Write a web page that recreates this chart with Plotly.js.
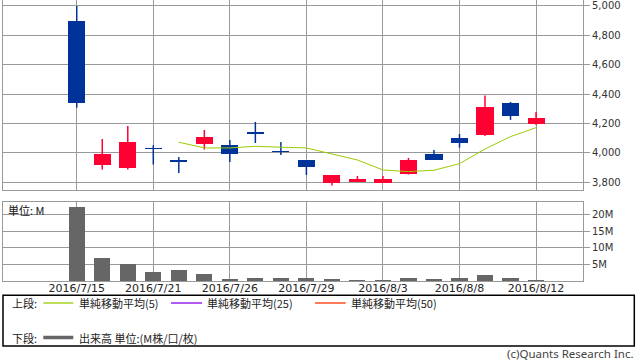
<!DOCTYPE html>
<html>
<head>
<meta charset="utf-8">
<script src="https://cdn.plot.ly/plotly-3.0.1.min.js"></script>
<style>html,body{margin:0;padding:0;background:#fff;}#chart{width:638px;height:362px;}</style>
</head>
<body>
<div id="chart"></div>
<script>
// ---- data ----
const dates = ["2016/7/15","2016/7/19","2016/7/20","2016/7/21","2016/7/22","2016/7/25","2016/7/26","2016/7/27","2016/7/28","2016/7/29","2016/8/1","2016/8/2","2016/8/3","2016/8/4","2016/8/5","2016/8/8","2016/8/9","2016/8/10","2016/8/12"];
const openP  = [4898, 3921, 3900, 4035, 3952, 4061, 4054, 4143, 4014, 3952, 3798, 3805, 3798, 3859, 3993, 4102, 4122, 4340, 4200];
const highP  = [5000, 4095, 4184, 4052, 3973, 4156, 4088, 4211, 4075, 3952, 3850, 3843, 3843, 3966, 4020, 4129, 4390, 4347, 4279];
const lowP   = [4308, 3887, 3887, 3921, 3864, 4023, 3939, 4068, 3986, 3850, 3778, 3805, 3798, 3853, 3955, 4036, 4116, 4225, 4190];
const closeP = [4340, 3993, 4075, 4025, 3941, 4109, 3995, 4132, 4007, 3907, 3850, 3823, 3823, 3952, 3955, 4070, 4313, 4252, 4238];
const ma5    = [null, null, null, null, 4073, 4034, 4034, 4045, 4039, 4034, 3993, 3952, 3884, 3873, 3882, 3927, 4027, 4111, 4172];
const volumeM = [22.3, 7.0, 5.1, 2.8, 3.3, 2.2, 0.6, 1.0, 1.0, 1.0, 0.6, 0.4, 0.4, 1.0, 0.7, 1.0, 1.9, 1.0, 0.4];
const tickIdx = [0, 3, 6, 9, 12, 15, 18];
const priceTicks = [3800, 4000, 4200, 4400, 4600, 4800, 5000];
const volTicks = [5, 10, 15, 20];
const volTickText = ["5M", "10M", "15M", "20M"];
const legendLabels = ["単純移動平均(5)", "単純移動平均(25)", "単純移動平均(50)"];

// ---- styles ----
const RED = "#ff0033", BLUE = "#003399", GRID = "#999999";
const idx = dates.map((d, i) => i);

function candleParts(upFlag) {
  const bx = [], bb = [], bh = [], wx = [], wy = [];
  idx.forEach(i => {
    const up = closeP[i] >= openP[i];
    if (up !== upFlag) return;
    bx.push(i);
    bb.push(Math.min(openP[i], closeP[i]));
    bh.push(Math.max(Math.abs(closeP[i] - openP[i]), 6));
    wx.push(i, i, null);
    wy.push(lowP[i], highP[i], null);
  });
  return {bx, bb, bh, wx, wy};
}
const upP = candleParts(true), dnP = candleParts(false);

const traces = [
  {type:"scatter", mode:"lines", x:upP.wx, y:upP.wy, xaxis:"x", yaxis:"y", line:{color:RED, width:1.5}, hoverinfo:"skip", showlegend:false},
  {type:"scatter", mode:"lines", x:dnP.wx, y:dnP.wy, xaxis:"x", yaxis:"y", line:{color:BLUE, width:1.5}, hoverinfo:"skip", showlegend:false},
  {type:"bar", x:upP.bx, y:upP.bh, base:upP.bb, width:0.67, xaxis:"x", yaxis:"y", marker:{color:RED, line:{width:0}}, showlegend:false},
  {type:"bar", x:dnP.bx, y:dnP.bh, base:dnP.bb, width:0.67, xaxis:"x", yaxis:"y", marker:{color:BLUE, line:{width:0}}, showlegend:false},
  {type:"scatter", mode:"lines", x:idx, y:ma5, xaxis:"x", yaxis:"y", line:{color:"#99cc00", width:1}, connectgaps:false, showlegend:false},
  {type:"bar", x:idx, y:volumeM, width:0.63, xaxis:"x2", yaxis:"y2", marker:{color:"#666666", line:{width:0}}, showlegend:false}
];

const xr = [-2.89, 19.84];
const tickFont = {family:"DejaVu Sans", size:10, color:"#333333"};
const cjk = "Noto Sans CJK JP, DejaVu Sans";

// paper coordinate helpers (plot area: x 3..583, y 0..281)
const PX = px => (px - 3) / 580;
const PY = py => (281 - py) / 281;

const shapes = [
  {type:"rect", xref:"paper", yref:"paper", x0:PX(3), x1:PX(634.3), y0:PY(346), y1:PY(295.3), line:{color:"#000", width:1.5}, fillcolor:"rgba(0,0,0,0)"},
  {type:"line", xref:"paper", yref:"paper", x0:PX(43.3), x1:PX(73.3), y0:PY(303), y1:PY(303), line:{color:"#99cc00", width:1.3}},
  {type:"line", xref:"paper", yref:"paper", x0:PX(171), x1:PX(202), y0:PY(303), y1:PY(303), line:{color:"#8800ee", width:1.3}},
  {type:"line", xref:"paper", yref:"paper", x0:PX(315), x1:PX(345.7), y0:PY(303), y1:PY(303), line:{color:"#ff3300", width:1.3}},
  {type:"line", xref:"paper", yref:"paper", x0:PX(43.3), x1:PX(73.3), y0:PY(337.5), y1:PY(337.5), line:{color:"#666666", width:3.5}}
];

function ann(text, px, py, anchor, size, color, fam) {
  return {text:text, xref:"paper", yref:"paper", x:PX(px), y:PY(py), xanchor:anchor||"left", yanchor:"middle",
          showarrow:false, font:{family:fam||cjk, size:size||11, color:color||"#222222"}, borderpad:0};
}
const annotations = [
  ann("単位: M", 7, 209.5, "left", 11, "#111111"),
  ann("上段:", 10.5, 303),
  ann(legendLabels[0], 78, 303),
  ann(legendLabels[1], 206, 303),
  ann(legendLabels[2], 350, 303),
  ann("下段:", 10.5, 337.5),
  ann("出来高 単位:(M株/口/枚)", 78, 337.5),
  ann("(c)Quants Research Inc.", 635, 353.5, "right", 11.5, "#444444", "Noto Sans")
];

const layout = {
  width:638, height:362,
  margin:{l:3, r:55, t:0, b:81, pad:0},
  paper_bgcolor:"#ffffff", plot_bgcolor:"#ffffff",
  showlegend:false, barmode:"overlay", bargap:0,
  xaxis:{domain:[0,1], anchor:"y", range:xr, tickmode:"array", tickvals:tickIdx, ticktext:tickIdx.map(i=>dates[i]),
         showticklabels:false, showgrid:true, gridcolor:GRID, gridwidth:1, showline:true, linecolor:GRID, linewidth:1, mirror:true,
         zeroline:false, ticks:"", fixedrange:true},
  yaxis:{domain:[0.3238,1], anchor:"x", side:"right", range:[3747.6, 5040.8], tickmode:"array", tickvals:priceTicks,
         tickformat:",d", ticks:"outside", ticklen:6, tickcolor:GRID, tickwidth:1, tickfont:tickFont,
         showgrid:true, gridcolor:GRID, gridwidth:1, showline:true, linecolor:GRID, linewidth:1, mirror:true, zeroline:false},
  xaxis2:{domain:[0,1], anchor:"y2", range:xr, tickmode:"array", tickvals:tickIdx, ticktext:tickIdx.map(i=>dates[i]),
          tickfont:{family:"DejaVu Sans", size:11, color:"#222222"}, ticks:"", ticklabelstandoff:-3,
          showgrid:true, gridcolor:GRID, gridwidth:1, showline:true, linecolor:GRID, linewidth:1, mirror:true, zeroline:false},
  yaxis2:{domain:[0,0.2826], anchor:"x2", side:"right", range:[0, 24.06], tickmode:"array", tickvals:volTicks, ticktext:volTickText,
          ticks:"outside", ticklen:6, tickcolor:GRID, tickwidth:1, tickfont:tickFont,
          showgrid:true, gridcolor:GRID, gridwidth:1, showline:true, linecolor:GRID, linewidth:1, mirror:true, zeroline:false},
  shapes:shapes,
  annotations:annotations
};

Plotly.newPlot("chart", traces, layout, {staticPlot:true, displayModeBar:false});
</script>
</body>
</html>
